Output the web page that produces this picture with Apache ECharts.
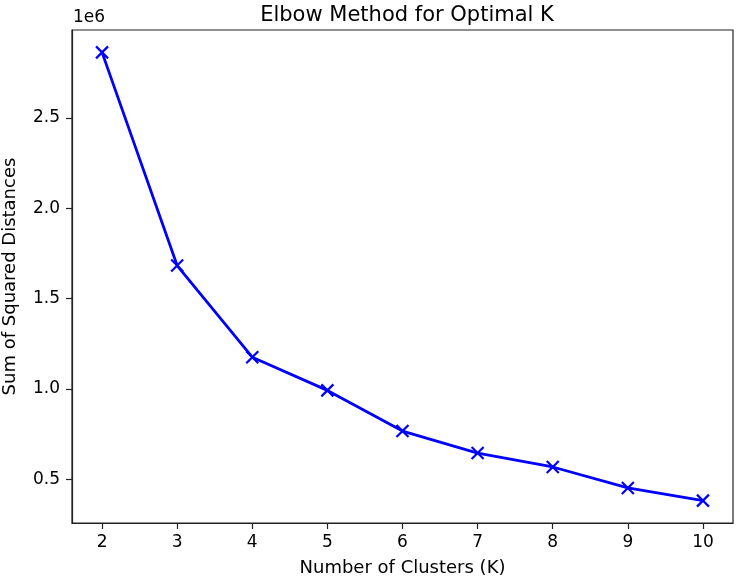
<!DOCTYPE html>
<html>
<head>
    <meta charset="utf-8">
    <title>Elbow Method for Optimal K</title>
    <script src="https://cdn.jsdelivr.net/npm/echarts@6/dist/echarts.min.js"></script>
    <style>
        html, body { margin: 0; padding: 0; background: #fff; }
        #main { width: 737px; height: 583px; }
    </style>
</head>
<body>
    <div id="main"></div>
    <script>
    // number of clusters and their sum of squared distances
    var kValues = [2, 3, 4, 5, 6, 7, 8, 9, 10];
    var sse = [2863000, 1683000, 1176000, 992000, 767000, 645000, 568000, 452000, 382000];
    var yTicks = [500000, 1000000, 1500000, 2000000, 2500000];

    var font = 'DejaVu Sans';
    var myChart = echarts.init(document.getElementById('main'));

    var points = kValues.map(function (k, i) { return [k, sse[i]]; });

    var option = {
        animation: false,
        backgroundColor: '#ffffff',
        title: {
            text: 'Elbow Method for Optimal K',
            left: 402,
            top: 0,
            textAlign: 'center',
            textStyle: { fontFamily: font, fontSize: 21, fontWeight: 'normal', color: '#000' }
        },
        graphic: [{
            type: 'text',
            left: 73,
            top: 9,
            style: { text: '1e6', font: '17px "DejaVu Sans"', fill: '#000' }
        }],
        grid: {
            left: 72, right: 4, top: 30, bottom: 60,
            containLabel: false,
            outerBoundsMode: 'none',
            show: true, borderColor: '#222', borderWidth: 1.2
        },
        xAxis: {
            type: 'value',
            min: 1.6,
            max: 10.4,
            name: 'Number of Clusters (K)',
            nameLocation: 'middle',
            nameGap: 36,
            nameTextStyle: { fontFamily: font, fontSize: 18, color: '#000' },
            axisLine: { show: true, lineStyle: { color: '#222', width: 1.2 } },
            axisTick: { show: true, customValues: kValues, length: 6, lineStyle: { color: '#222', width: 1.2 } },
            axisLabel: { customValues: kValues, margin: 11, fontFamily: font, fontSize: 17, color: '#000' },
            splitLine: { show: false }
        },
        yAxis: {
            type: 'value',
            min: 258000,
            max: 2987000,
            name: 'Sum of Squared Distances',
            nameLocation: 'middle',
            nameGap: 53,
            nameTextStyle: { fontFamily: font, fontSize: 18, color: '#000' },
            axisLine: { show: true, lineStyle: { color: '#222', width: 1.2 } },
            axisTick: { show: true, customValues: yTicks, length: 6, lineStyle: { color: '#222', width: 1.2 } },
            axisLabel: {
                customValues: yTicks, margin: 12, fontFamily: font, fontSize: 17, color: '#000',
                formatter: function (v) { return (v / 1e6).toFixed(1); }
            },
            splitLine: { show: false }
        },
        series: [{
            type: 'line',
            data: points,
            symbol: 'path://M0,0L10,10M10,0L0,10',
            symbolSize: 12,
            showAllSymbol: true,
            lineStyle: { color: '#0000ff', width: 2.8 },
            itemStyle: { color: '#0000ff', borderColor: '#0000ff', borderWidth: 2.2 }
        }]
    };

    myChart.setOption(option);
    </script>
</body>
</html>
